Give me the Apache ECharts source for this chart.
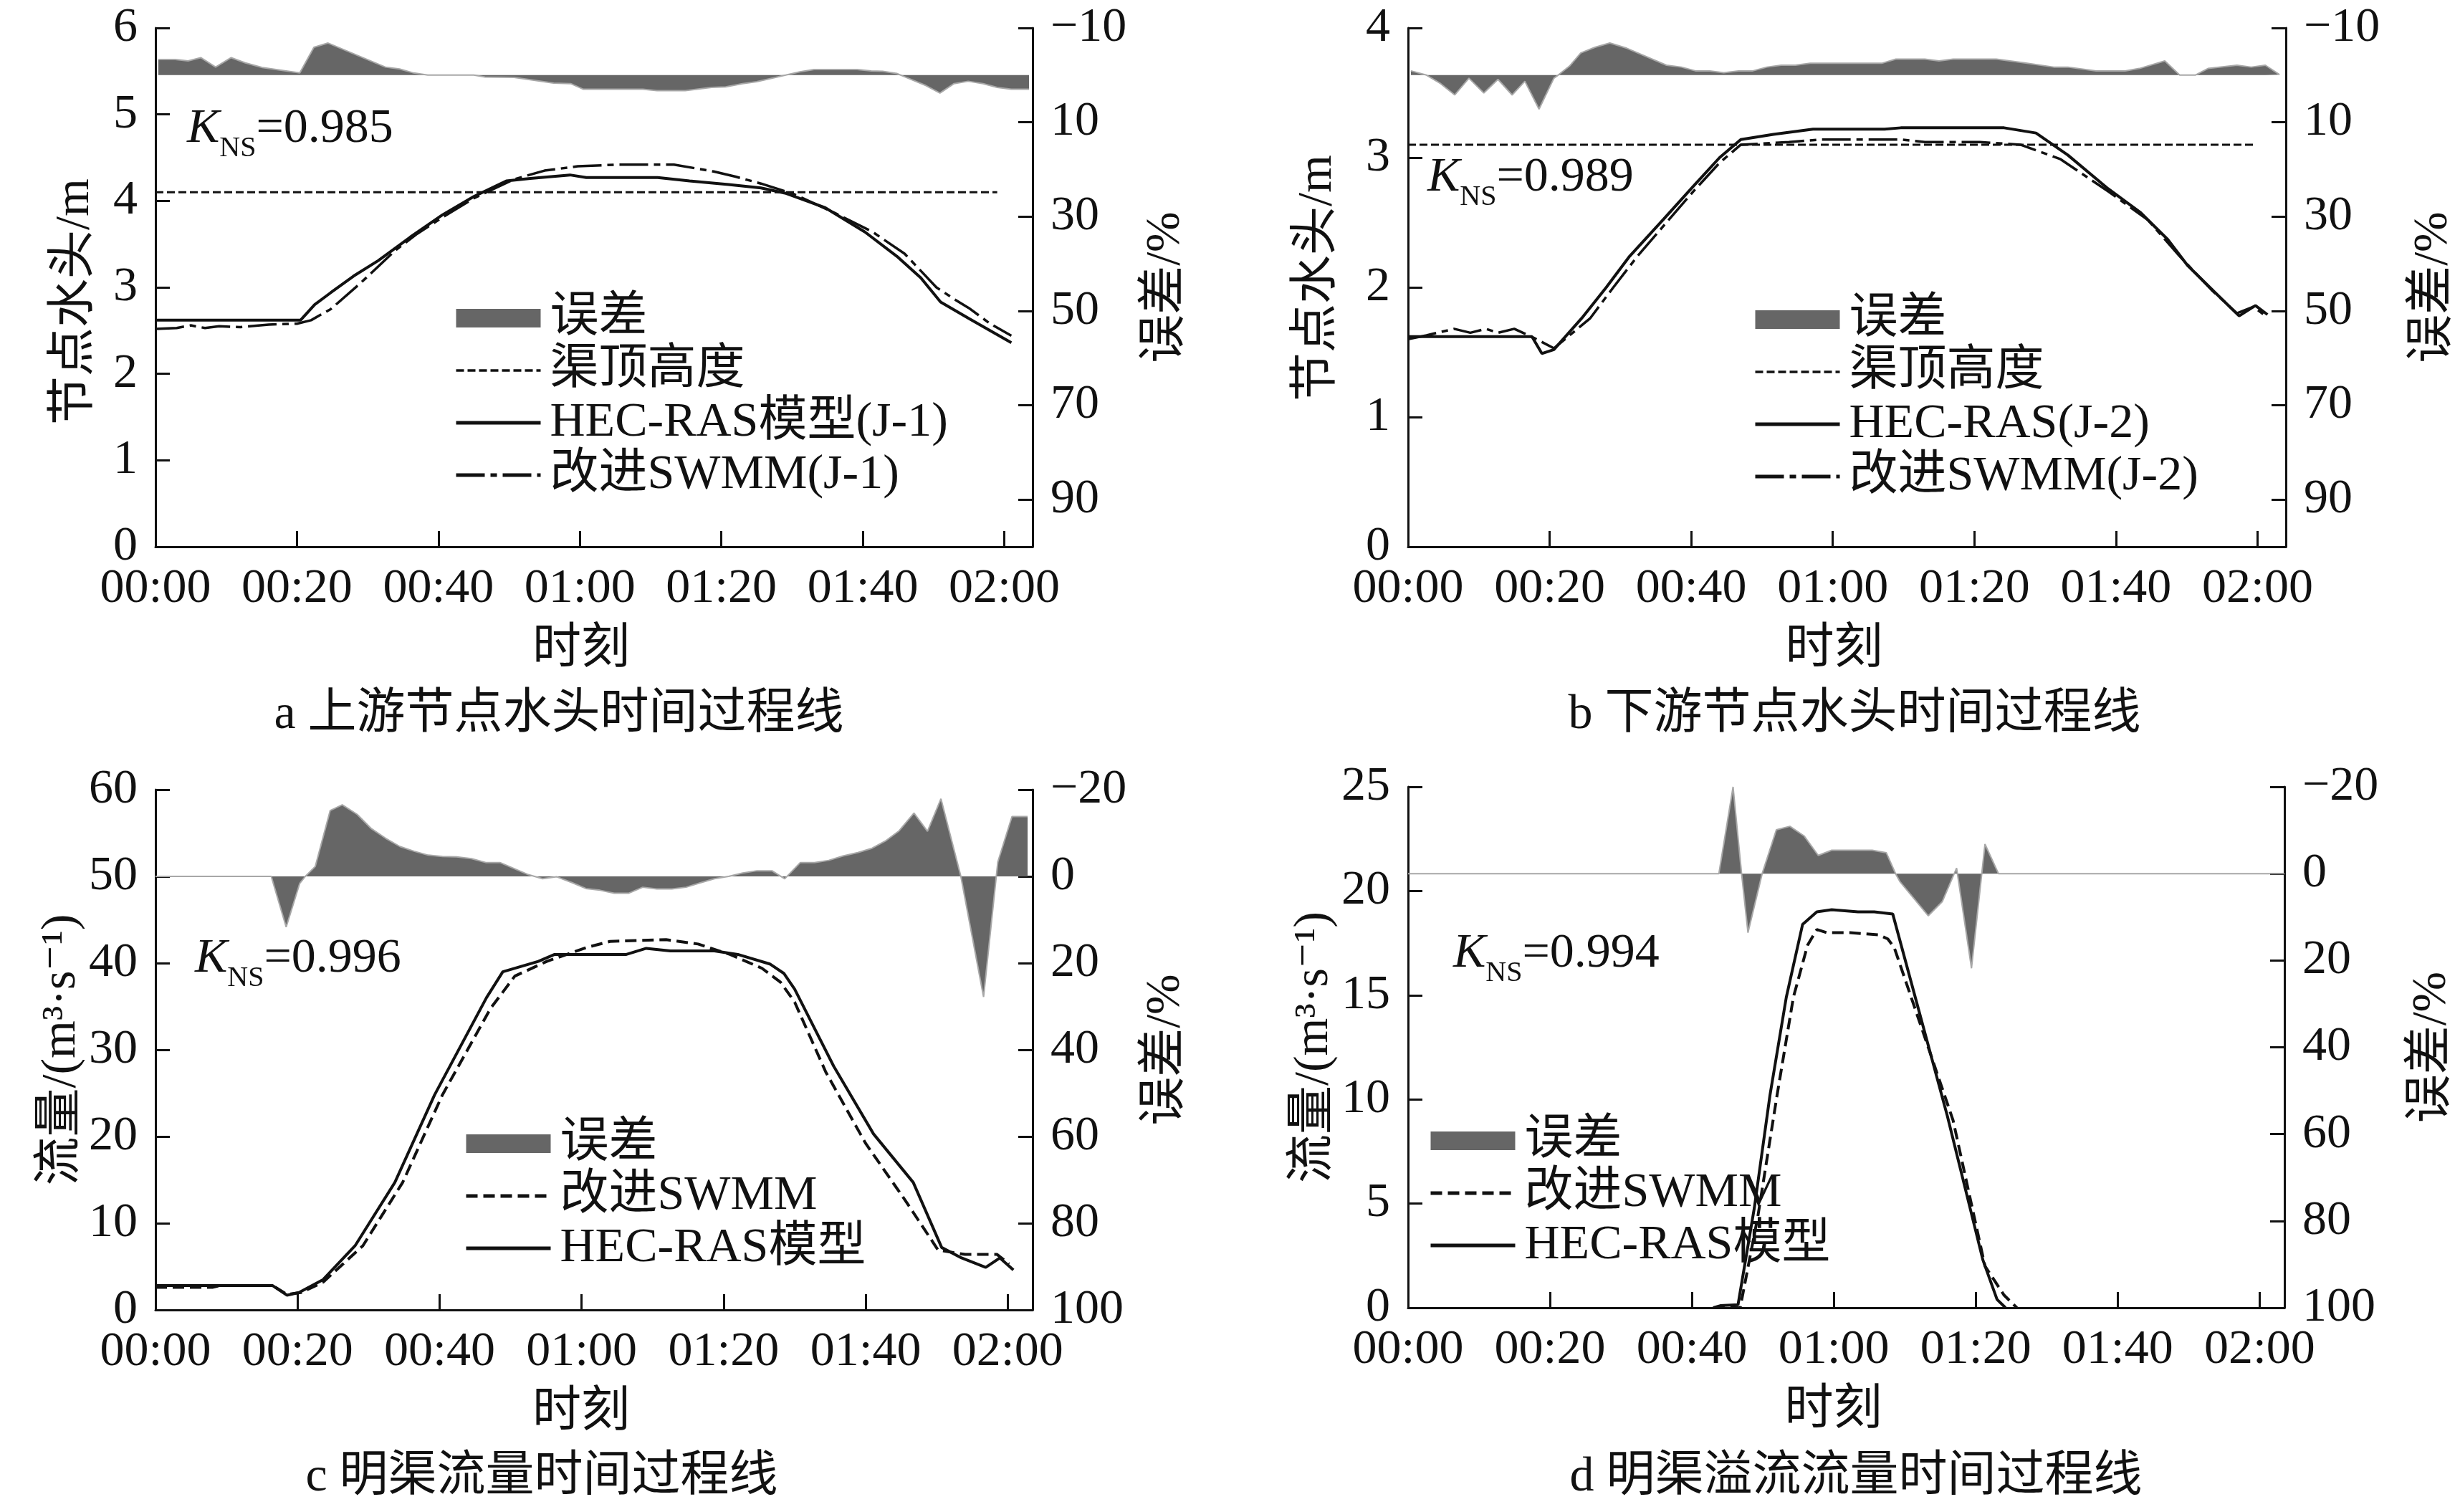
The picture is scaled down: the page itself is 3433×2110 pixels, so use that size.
<!DOCTYPE html>
<html>
<head>
<meta charset="utf-8">
<script src="https://cdn.jsdelivr.net/npm/echarts@6/dist/echarts.min.js"></script>
<style>
  html, body { margin: 0; padding: 0; background: #fff; }
  #main { width: 3433px; height: 2110px; }
</style>
</head>
<body>
<div id="main"></div>
<script>
// time in minutes from 00:00
// a: upstream node head (m) and error (%)
var aHecT = [0, 20.5, 22.5, 24.8, 28, 31.5, 36, 40.6, 45, 49.6, 53, 58.6, 60.9, 71, 75.5, 81, 85.6, 89, 94.7, 100.3, 104.8, 108.2, 111, 115, 121];
var aHecV = [2.62, 2.62, 2.80, 2.94, 3.13, 3.31, 3.58, 3.84, 4.05, 4.23, 4.26, 4.30, 4.27, 4.27, 4.23, 4.19, 4.15, 4.09, 3.92, 3.64, 3.36, 3.11, 2.83, 2.64, 2.36];
var aSwmT = [0, 3, 5, 7, 9, 12, 16, 20, 22, 24.8, 29, 33.8, 37, 40.6, 45, 50.7, 55, 59.7, 65.4, 73.3, 78.9, 82, 85.6, 90.2, 95.8, 101.4, 105.9, 110.4, 113, 115, 118, 121];
var aSwmV = [2.52, 2.53, 2.56, 2.53, 2.55, 2.54, 2.57, 2.58, 2.62, 2.75, 3.05, 3.42, 3.62, 3.81, 4.03, 4.25, 4.35, 4.40, 4.42, 4.42, 4.34, 4.28, 4.20, 4.08, 3.87, 3.64, 3.39, 3.00, 2.86, 2.76, 2.58, 2.44];
var aTopT = [0, 119];
var aTopV = [4.1, 4.1];
var aErrT = [0.4, 2.8, 4.6, 6.4, 8.5, 10.7, 12.7, 15.1, 20.4, 22.4, 24.4, 32.5, 34.5, 36.5, 38.5, 45, 46.6, 50.7, 56.3, 58.7, 60.5, 68.9, 70.9, 74.9, 78.6, 80.6, 83, 85, 87, 89.1, 91.1, 93.1, 99.2, 101.2, 102.8, 104.8, 105.6, 108.9, 110.9, 112.9, 114.9, 117, 119, 121, 123.5];
var aErrV = [-3.3, -3.3, -3.0, -3.7, -1.7, -3.7, -2.6, -1.6, -0.45, -5.9, -6.8, -1.7, -1.3, -0.45, 0, 0, 0.4, 0.5, 1.7, 1.8, 3.0, 3.0, 3.3, 3.3, 2.6, 2.5, 1.8, 1.4, 0.7, 0, -0.7, -1.2, -1.2, -0.9, -0.8, -0.35, 0.15, 2.2, 3.8, 1.8, 1.3, 1.8, 2.6, 3.0, 3.0];

// b: downstream node head (m) and error (%)
var bHecT = [0, 17.5, 18.9, 20.6, 24.5, 28, 31.3, 36, 40.3, 44, 47, 51.6, 57.2, 67.3, 69.6, 84.2, 88.7, 93.2, 98.9, 103.4, 107.3, 110.1, 114, 117.4, 119.7, 121.4];
var bHecV = [1.62, 1.62, 1.49, 1.52, 1.76, 2.00, 2.24, 2.52, 2.78, 3.00, 3.14, 3.18, 3.22, 3.22, 3.23, 3.23, 3.19, 3.02, 2.76, 2.58, 2.37, 2.17, 1.96, 1.78, 1.86, 1.79];
var bSwmT = [0, 2.6, 6.5, 8.8, 11, 12.7, 15, 17.8, 20.6, 25.7, 29, 32.4, 36.5, 40.3, 44, 47, 53.8, 58.3, 69.6, 73, 80.8, 86.5, 92.1, 98.9, 104.5, 109, 113.5, 117.1, 119.4, 121.4];
var bSwmV = [1.60, 1.63, 1.68, 1.65, 1.68, 1.65, 1.68, 1.61, 1.53, 1.76, 2.00, 2.24, 2.50, 2.74, 2.96, 3.10, 3.12, 3.14, 3.14, 3.12, 3.12, 3.10, 2.99, 2.74, 2.52, 2.24, 1.98, 1.80, 1.85, 1.77];
var bTopT = [0, 119.4];
var bTopV = [3.1, 3.1];
var bErrT = [0.4, 2.6, 4.6, 6.6, 8.6, 10.7, 12.7, 14.7, 16.5, 18.5, 20.6, 21.2, 22.8, 24.4, 26.4, 28.5, 30.9, 36.5, 38.6, 40.6, 42.6, 44.6, 46.7, 48.7, 50.7, 52.7, 54.7, 56.8, 66.9, 68.9, 73, 75, 77, 83.1, 87.1, 91.2, 93.2, 97.2, 101.3, 103.3, 106.9, 109, 111.2, 113, 117.1, 119.1, 121.1, 123.1];
var bErrV = [-0.9, 0, 1.8, 4.2, 0.65, 3.8, 0.9, 4.2, 1.3, 7.2, 0.65, 0, -1.9, -4.7, -5.9, -6.8, -5.7, -2.1, -1.7, -0.9, -0.9, -0.5, -0.9, -0.9, -1.7, -2.1, -2.1, -2.5, -2.5, -3.4, -3.4, -3.0, -3.4, -3.4, -2.6, -1.7, -1.7, -0.9, -0.9, -1.4, -3.0, 0, 0, -1.4, -2.1, -1.7, -2.1, -0.1];

// c: open channel discharge (m3/s) and error (%)
var cHecT = [0, 16.5, 18.5, 20.2, 23.6, 28.1, 33.7, 39.3, 46.6, 48.9, 53.9, 56.2, 66.3, 69.1, 72.5, 78.7, 82, 86.5, 88.5, 90, 95.5, 101.1, 106.7, 110.7, 113.5, 116.9, 118.9, 120.8];
var cHecV = [2.8, 2.8, 1.7, 2.0, 3.5, 7.4, 14.7, 24.8, 36.0, 39.0, 40.2, 41.0, 41.0, 41.7, 41.4, 41.4, 41.0, 39.9, 38.8, 37.0, 28.1, 20.3, 14.7, 7.2, 6.0, 4.9, 6.0, 4.6];
var cSwmT = [0, 8, 9, 16.5, 18.5, 20.5, 23.6, 29.2, 34.8, 40.4, 47.2, 50.6, 55.1, 60.7, 64, 71.9, 76.4, 80.9, 85.4, 88, 90, 94.4, 100, 105.6, 110.2, 114, 118.5, 120.2];
var cSwmV = [2.6, 2.6, 2.8, 2.8, 1.8, 2.0, 3.2, 7.4, 14.7, 24.8, 34.8, 38.5, 40.2, 41.8, 42.5, 42.7, 42.2, 41.0, 39.4, 37.8, 35.5, 27.4, 19.2, 12.6, 6.9, 6.4, 6.4, 5.3];
var cErrT = [0, 16.3, 18.4, 20.3, 21.1, 22.5, 24.6, 26.3, 28.4, 30.4, 32.4, 34.4, 36.4, 38.4, 40.4, 42.4, 44.5, 46.5, 48.5, 50.5, 52.5, 54.5, 56.5, 58.6, 60.6, 62.6, 64.6, 66.6, 68.6, 70.6, 72.7, 74.7, 76.7, 78.7, 80.7, 82.7, 84.7, 86.8, 88.6, 90.8, 92.8, 94.8, 96.8, 98.9, 100.9, 102.9, 104.7, 106.8, 108.7, 110.6, 113.4, 116.6, 118.6, 120.6, 122.8];
var cErrV = [0, 0, 11.7, 1.65, 0, -2.3, -15.2, -16.5, -14.3, -11.0, -8.8, -6.9, -5.8, -4.9, -4.6, -4.5, -4.1, -3.2, -3.2, -1.8, -0.4, 0.55, 0.1, 1.4, 2.8, 3.2, 3.9, 3.9, 2.5, 2.9, 2.9, 2.5, 1.5, 0.55, 0, -0.8, -1.3, -1.3, 0.55, -3.2, -3.2, -3.7, -4.7, -5.5, -6.5, -8.3, -10.5, -14.6, -10.4, -17.9, 0, 27.8, -3.3, -13.8, -13.8];

// d: open channel overflow discharge (m3/s) and error (%)
var dHecT = [43, 44, 46.5, 48.8, 51, 53.3, 55.6, 57.6, 59.7, 63.4, 65.7, 68.3, 76, 81, 83, 84.2];
var dHecV = [0, 0.1, 0.15, 4.8, 10.2, 14.9, 18.4, 19.0, 19.1, 19.0, 19.0, 18.9, 9.2, 2.3, 0.4, 0];
var dSwmT = [43, 46.8, 49.3, 52, 54.3, 56.3, 57.6, 59, 62.3, 66.3, 67.6, 68.5, 76.8, 81.3, 84, 85.8];
var dSwmV = [0, 0, 4.4, 10.2, 14.9, 17.4, 18.15, 18.0, 18.0, 17.9, 17.7, 17.3, 9.0, 2.0, 0.6, 0];
var dErrT = [0, 43.8, 45.8, 47.0, 47.9, 49.9, 51.9, 53.8, 55.8, 57.8, 59.7, 65.4, 67.4, 68.7, 69.3, 73.3, 75.3, 77.3, 79.4, 81.3, 83.2, 123.5];
var dErrV = [0, 0, -20, 0, 13.6, 0, -10.1, -10.9, -8.7, -4.2, -5.4, -5.4, -4.8, 0, 1.8, 9.7, 6.4, -1.3, 21.8, -6.8, 0, 0];

var xTicks = [0, 20, 40, 60, 80, 100, 120];
var errTicksAB = [-10, 10, 30, 50, 70, 90];

var INK = '#111';
var FONT = "'Liberation Serif','DejaVu Serif','Noto Sans CJK SC',serif";
var FS = 68;

var dashDot = [40, 8, 9, 8];
var dash = [16, 8];
var fineDash = [11, 5];

// legend line width per series name
var legendWidth = {
    '渠顶高度': 3.5,
    'HEC-RAS模型(J-1)': 5, '改进SWMM(J-1)': 5,
    'HEC-RAS(J-2)': 5, '改进SWMM(J-2)': 5,
    '改进SWMM': 5, 'HEC-RAS模型': 5
};

function pairs(t, v) {
    return t.map(function (x, i) { return [x, v[i]]; });
}
function pad(n) { return (n < 10 ? '0' : '') + n; }
function fmtTime(v) { return pad(Math.floor(v / 60)) + ':' + pad(v % 60); }
function fmtErr(v) { return v < 0 ? '\u2212' + (-v) : String(v); }

function txt(extra) {
    var s = {fontSize: FS, fontFamily: FONT, color: INK};
    for (var k in extra) s[k] = extra[k];
    return s;
}

function timeAxis(gi, max) {
    return {
        type: 'value', gridIndex: gi, min: 0, max: max,
        name: '时刻', nameLocation: 'middle', nameGap: 110,
        nameTextStyle: txt({padding: [0, 36, 0, 0]}),
        axisLine: {show: true, lineStyle: {color: INK, width: 3}},
        axisTick: {show: true, inside: true, length: 22, lineStyle: {color: INK, width: 3}, customValues: xTicks},
        axisLabel: txt({customValues: xTicks, formatter: fmtTime, margin: 25}),
        splitLine: {show: false}
    };
}

function leftAxis(gi, max, step, name, gap, shift) {
    return {
        type: 'value', gridIndex: gi, position: 'left', min: 0, max: max, interval: step,
        name: name, nameLocation: 'middle', nameGap: gap, nameRotate: 90,
        nameTextStyle: txt({padding: shift}),
        axisLine: {show: true, lineStyle: {color: INK, width: 3}},
        axisTick: {show: true, inside: true, length: 20, lineStyle: {color: INK, width: 3}},
        axisLabel: txt({margin: 25}),
        splitLine: {show: false}
    };
}

function rightAxis(gi, min, gap, custom) {
    var ax = {
        type: 'value', gridIndex: gi, position: 'right', inverse: true, min: min, max: 100,
        name: '误差/%', nameLocation: 'middle', nameGap: gap, nameRotate: 90,
        nameTextStyle: txt({}),
        axisLine: {show: true, lineStyle: {color: INK, width: 3}},
        axisTick: {show: true, inside: true, length: 20, lineStyle: {color: INK, width: 3}},
        axisLabel: txt({margin: 25, formatter: fmtErr}),
        splitLine: {show: false}
    };
    if (custom) {
        ax.axisTick.customValues = custom;
        ax.axisLabel.customValues = custom;
    } else {
        ax.interval = 20;
    }
    return ax;
}

function errSeries(gi, t, v) {
    return {
        name: '误差', type: 'line', xAxisIndex: gi, yAxisIndex: gi * 2 + 1,
        data: pairs(t, v), symbol: 'none', color: '#666',
        lineStyle: {color: '#a8a8a8', width: 2},
        areaStyle: {color: '#666', opacity: 1},
        z: 1, silent: true
    };
}

function curve(name, gi, t, v, type, width) {
    return {
        name: name, type: 'line', xAxisIndex: gi, yAxisIndex: gi * 2,
        data: pairs(t, v), symbol: 'none', color: INK,
        lineStyle: {color: INK, width: width, type: type},
        z: 3, silent: true
    };
}

function legendAt(left, top, names) {
    return {
        orient: 'vertical', left: left, top: top, padding: 0, itemGap: 5,
        itemWidth: 118, itemHeight: 26, selectedMode: false,
        textStyle: txt({padding: [0, 0, 0, 8]}),
        data: names.map(function (n) {
            return n === '误差'
                ? {name: n, icon: 'rect', itemStyle: {opacity: 1}}
                : {name: n, itemStyle: {opacity: 0}, lineStyle: {width: legendWidth[n]}};
        })
    };
}

function kns(x, y, val) {
    return {
        type: 'text', x: x, y: y, silent: true,
        style: {
            text: '{k|K}{s|NS}{m|=' + val + '}',
            align: 'left', verticalAlign: 'middle',
            rich: {
                k: {fontFamily: FONT, fontStyle: 'italic', fontSize: FS, fill: INK, lineHeight: 94},
                s: {fontFamily: FONT, fontSize: 40, fill: INK, lineHeight: 42, verticalAlign: 'bottom'},
                m: {fontFamily: FONT, fontSize: FS, fill: INK, lineHeight: 94}
            }
        }
    };
}

function caption(x, y, text) {
    return {
        type: 'text', x: x, y: y, silent: true,
        style: {text: text, fontFamily: FONT, fontSize: FS, fill: INK, align: 'center', verticalAlign: 'middle'}
    };
}

var option = {
    animation: false,
    backgroundColor: '#fff',
    grid: [
        {left: 217, top: 39, width: 1224, height: 724},
        {left: 1965, top: 39, width: 1225, height: 724},
        {left: 217, top: 1102, width: 1224, height: 726},
        {left: 1965, top: 1098, width: 1223, height: 727}
    ],
    xAxis: [timeAxis(0, 124), timeAxis(1, 124), timeAxis(2, 123.5), timeAxis(3, 123.5)],
    yAxis: [
        leftAxis(0, 6, 1, '节点水头/m', 78, [0, 40, 0, 0]),
        rightAxis(0, -10, 152, errTicksAB),
        leftAxis(1, 4, 1, '节点水头/m', 92, [0, 0, 0, 26]),
        rightAxis(1, -10, 172, errTicksAB),
        leftAxis(2, 60, 10, '流量/(m³·s⁻¹)', 78, [0, 0, 0, 0]),
        rightAxis(2, -20, 152, null),
        leftAxis(3, 25, 5, '流量/(m³·s⁻¹)', 84, [0, 0, 0, 0]),
        rightAxis(3, -20, 172, null)
    ],
    legend: [
        legendAt(634, 410, ['误差', '渠顶高度', 'HEC-RAS模型(J-1)', '改进SWMM(J-1)']),
        legendAt(2447, 412, ['误差', '渠顶高度', 'HEC-RAS(J-2)', '改进SWMM(J-2)']),
        legendAt(648, 1562, ['误差', '改进SWMM', 'HEC-RAS模型']),
        legendAt(1994, 1558, ['误差', '改进SWMM', 'HEC-RAS模型'])
    ],
    series: [
        errSeries(0, aErrT, aErrV),
        curve('渠顶高度', 0, aTopT, aTopV, fineDash, 3),
        curve('HEC-RAS模型(J-1)', 0, aHecT, aHecV, 'solid', 4),
        curve('改进SWMM(J-1)', 0, aSwmT, aSwmV, dashDot, 3.5),

        errSeries(1, bErrT, bErrV),
        curve('渠顶高度', 1, bTopT, bTopV, fineDash, 3),
        curve('HEC-RAS(J-2)', 1, bHecT, bHecV, 'solid', 4),
        curve('改进SWMM(J-2)', 1, bSwmT, bSwmV, dashDot, 3.5),

        errSeries(2, cErrT, cErrV),
        curve('改进SWMM', 2, cSwmT, cSwmV, dash, 4),
        curve('HEC-RAS模型', 2, cHecT, cHecV, 'solid', 4),

        errSeries(3, dErrT, dErrV),
        curve('改进SWMM', 3, dSwmT, dSwmV, dash, 4),
        curve('HEC-RAS模型', 3, dHecT, dHecV, 'solid', 4)
    ],
    graphic: [
        kns(261, 180, '0.985'),
        kns(1992, 248, '0.989'),
        kns(272, 1338, '0.996'),
        kns(2028, 1331, '0.994'),
        caption(780, 998, 'a 上游节点水头时间过程线'),
        caption(2588, 998, 'b 下游节点水头时间过程线'),
        caption(756, 2062, 'c 明渠流量时间过程线'),
        caption(2590, 2062, 'd 明渠溢流流量时间过程线')
    ]
};

var myChart = echarts.init(document.getElementById('main'), null, {renderer: 'canvas', devicePixelRatio: 1});
myChart.setOption(option);
</script>
</body>
</html>
